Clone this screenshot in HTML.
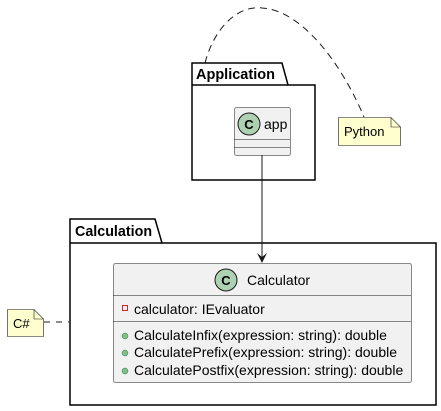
<!DOCTYPE html>
<html><head><style>body{margin:0;background:#fff}svg{display:block}text{font-family:"Liberation Sans",sans-serif}</style></head><body>
<svg width="441" height="411" viewBox="0 0 441 411">
<path d="M205,63 C215,25 240,5 262,8 C300,10 340,60 364,117" fill="none" stroke="#181818" stroke-dasharray="7,5"/>
<path d="M192,85 L192,63 L282,63 L288,85 L315,85 L315,180 L192,180 Z" fill="#fff" stroke="#000" stroke-width="1.5"/>
<line x1="192" y1="85" x2="288" y2="85" stroke="#000" stroke-width="1.5"/>
<text x="196" y="79" font-size="14.5" font-weight="bold">Application</text>
<rect x="234.5" y="107.5" width="56" height="48" rx="2" fill="#f1f1f1" stroke="#181818" stroke-opacity="0.5"/>
<line x1="234" y1="139.5" x2="290" y2="139.5" stroke="#181818" stroke-opacity="0.5"/>
<line x1="234" y1="147.5" x2="290" y2="147.5" stroke="#181818" stroke-opacity="0.5"/>
<circle cx="249" cy="124" r="11" fill="#add1b2" stroke="#181818"/>
<text x="249" y="129" font-size="13" font-weight="bold" text-anchor="middle">C</text>
<text x="264" y="129" font-size="14">app</text>
<path d="M338.5,117.5 L391,117.5 L400.5,127 L400.5,145.5 L338.5,145.5 Z" fill="#fefece" stroke="#181818" stroke-width="0.6"/>
<path d="M391,117.5 L391,127 L400.5,127" fill="none" stroke="#181818" stroke-width="0.6"/>
<text x="344" y="136" font-size="13">Python</text>
<path d="M70,243 L70,219 L155,219 L162,243 L436,243 L436,405 L70,405 Z" fill="#fff" stroke="#000" stroke-width="1.5"/>
<line x1="70" y1="243" x2="162" y2="243" stroke="#000" stroke-width="1.5"/>
<text x="75" y="236" font-size="14.3" font-weight="bold">Calculation</text>
<line x1="262" y1="155" x2="262" y2="260" stroke="#181818"/>
<path d="M257,253 L262,263 L267,253 L262,257 Z" fill="#181818"/>
<rect x="113.5" y="263.5" width="298" height="119" rx="2" fill="#f1f1f1" stroke="#181818" stroke-opacity="0.5"/>
<line x1="113" y1="295.5" x2="411" y2="295.5" stroke="#181818" stroke-opacity="0.5"/>
<line x1="113" y1="321.5" x2="411" y2="321.5" stroke="#181818" stroke-opacity="0.5"/>
<circle cx="226" cy="280" r="11" fill="#add1b2" stroke="#181818"/>
<text x="226" y="285" font-size="13" font-weight="bold" text-anchor="middle">C</text>
<text x="247" y="285" font-size="14">Calculator</text>
<rect x="122.5" y="305.5" width="5" height="5" fill="none" stroke="#c82930"/>
<text x="134" y="314" font-size="14">calculator: IEvaluator</text>
<circle cx="125" cy="336" r="3" fill="#84be84" stroke="#038048" stroke-width="0.5"/>
<circle cx="125" cy="353" r="3" fill="#84be84" stroke="#038048" stroke-width="0.5"/>
<circle cx="125" cy="371" r="3" fill="#84be84" stroke="#038048" stroke-width="0.5"/>
<text x="134" y="340" font-size="14">CalculateInfix(expression: string): double</text>
<text x="134" y="357" font-size="14">CalculatePrefix(expression: string): double</text>
<text x="134" y="375" font-size="14">CalculatePostfix(expression: string): double</text>
<path d="M7.5,309.5 L34,309.5 L43.5,319 L43.5,336.5 L7.5,336.5 Z" fill="#fefece" stroke="#181818" stroke-width="0.6"/>
<path d="M34,309.5 L34,319 L43.5,319" fill="none" stroke="#181818" stroke-width="0.6"/>
<text x="13" y="328" font-size="13">C#</text>
<line x1="44" y1="322" x2="69" y2="322" stroke="#181818" stroke-dasharray="6,6"/>
</svg>
</body></html>
